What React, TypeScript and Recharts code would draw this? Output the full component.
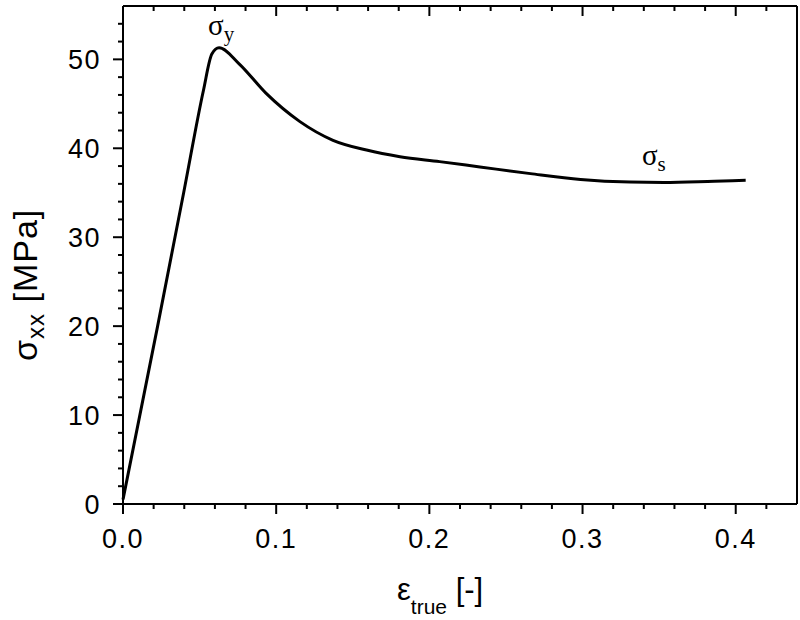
import { LineChart, Line, XAxis, YAxis, ReferenceDot, Label } from "recharts";

// true strain [-] and stress σxx [MPa]
const strainValues = [
  0, 0.0226, 0.0396, 0.0525, 0.058, 0.0627, 0.0758, 0.0933, 0.1155, 0.1371,
  0.159, 0.1808, 0.2067, 0.233, 0.266, 0.2987, 0.331, 0.353, 0.386, 0.4065,
];
const stressValues = [
  0.5, 20, 35, 46.5, 50.6, 51.3, 49.5, 46.2, 43.0, 40.9,
  39.8, 39.05, 38.5, 37.9, 37.15, 36.5, 36.2, 36.15, 36.3, 36.4,
];

const xTicks = [
  0, 0.02, 0.04, 0.06, 0.08, 0.1, 0.12, 0.14, 0.16, 0.18, 0.2, 0.22, 0.24,
  0.26, 0.28, 0.3, 0.32, 0.34, 0.36, 0.38, 0.4, 0.42,
];
const xLabels = ["0.0", "0.1", "0.2", "0.3", "0.4"];
const yTicks = [
  0, 2, 4, 6, 8, 10, 12, 14, 16, 18, 20, 22, 24, 26, 28, 30, 32, 34, 36, 38,
  40, 42, 44, 46, 48, 50, 52, 54,
];

const annotations = [
  { x: 0.0555, y: 52.7, sub: "y" },
  { x: 0.3388, y: 38.1, sub: "s" },
];

const data = strainValues.map((x, i) => ({ x, y: stressValues[i] }));

const SANS = "'Liberation Sans', Arial, Helvetica, sans-serif";
const SERIF = "'Liberation Serif', 'Times New Roman', serif";

const isMajorX = (v: number) => Math.abs(v * 10 - Math.round(v * 10)) < 1e-6;
const isMajorY = (v: number) => v % 10 === 0;

function BottomTick(props: any) {
  const { x, y, payload } = props;
  const major = isMajorX(payload.value);
  const idx = Math.round(payload.value * 10);
  return (
    <g>
      <line x1={x} y1={y} x2={x} y2={y + (major ? 10 : 5)} stroke="#000" strokeWidth={2} />
      {major && (
        <text x={x} y={y + 44} textAnchor="middle" fontSize={27} fontFamily={SANS} letterSpacing={1.5} fill="#000">
          {xLabels[idx]}
        </text>
      )}
    </g>
  );
}

function TopTick(props: any) {
  const { x, y, payload } = props;
  const major = isMajorX(payload.value);
  return <line x1={x} y1={y} x2={x} y2={y + (major ? 10 : 5)} stroke="#000" strokeWidth={2} />;
}

function LeftTick(props: any) {
  const { x, y, payload } = props;
  const major = isMajorY(payload.value);
  return (
    <g>
      <line x1={x} y1={y} x2={x - (major ? 10 : 5)} y2={y} stroke="#000" strokeWidth={2} />
      {major && (
        <text x={x - 22} y={y + 10} textAnchor="end" fontSize={27} fontFamily={SANS} letterSpacing={1.5} fill="#000">
          {payload.value}
        </text>
      )}
    </g>
  );
}

function RightTick(props: any) {
  const { x, y, payload } = props;
  const major = isMajorY(payload.value);
  return <line x1={x} y1={y} x2={x - (major ? 10 : 5)} y2={y} stroke="#000" strokeWidth={2} />;
}

function XTitle() {
  return (
    <text x={397} y={600} fontSize={31} fontFamily={SANS} fill="#000">
      ε
      <tspan fontSize={21} dy={14}>true</tspan>
      <tspan fontSize={31} dy={-14}> [-]</tspan>
    </text>
  );
}

function YTitle() {
  return (
    <text x={0} y={0} transform="translate(37,361) rotate(-90)" fontSize={34} fontFamily={SANS} letterSpacing={1} fill="#000">
      σ
      <tspan fontSize={24} dy={7}>xx</tspan>
      <tspan fontSize={34} dy={-7}> [MPa]</tspan>
    </text>
  );
}

function SigmaMark(props: any) {
  const { cx, cy, sub } = props;
  return (
    <text x={cx} y={cy} fontSize={29} fontFamily={SERIF} fill="#000">
      σ
      <tspan fontSize={21} dy={6}>{sub}</tspan>
    </text>
  );
}

const axisLine = { stroke: "#000", strokeWidth: 2 };

export default function App() {
  return (
    <div style={{ position: "absolute", left: 0, top: 0, background: "#fff" }}>
      <LineChart width={800} height={620} data={data} margin={{ top: 0, right: 0, bottom: 0, left: 0 }}>
        <XAxis
          xAxisId="bottom"
          dataKey="x"
          type="number"
          domain={[0, 0.44]}
          ticks={xTicks}
          interval={0}
          height={116}
          axisLine={axisLine}
          tickLine={false}
          tickSize={0}
          tickMargin={0}
          tick={BottomTick}
        >
          <Label content={XTitle} />
        </XAxis>
        <XAxis
          xAxisId="top"
          orientation="top"
          dataKey="x"
          type="number"
          domain={[0, 0.44]}
          ticks={xTicks}
          interval={0}
          height={6}
          axisLine={axisLine}
          tickLine={false}
          tickSize={0}
          tickMargin={0}
          tick={TopTick}
        />
        <YAxis
          yAxisId="left"
          type="number"
          domain={[0, 56]}
          ticks={yTicks}
          interval={0}
          width={123}
          axisLine={axisLine}
          tickLine={false}
          tickSize={0}
          tickMargin={0}
          tick={LeftTick}
        >
          <Label content={YTitle} />
        </YAxis>
        <YAxis
          yAxisId="right"
          orientation="right"
          type="number"
          domain={[0, 56]}
          ticks={yTicks}
          interval={0}
          width={3}
          axisLine={axisLine}
          tickLine={false}
          tickSize={0}
          tickMargin={0}
          tick={RightTick}
        />
        <Line
          xAxisId="bottom"
          yAxisId="left"
          dataKey="y"
          type="monotone"
          stroke="#000"
          strokeWidth={3}
          dot={false}
          isAnimationActive={false}
        />
        {annotations.map((a) => (
          <ReferenceDot
            key={a.sub}
            xAxisId="bottom"
            yAxisId="left"
            x={a.x}
            y={a.y}
            r={1}
            shape={(p: any) => <SigmaMark {...p} sub={a.sub} />}
          />
        ))}
      </LineChart>
    </div>
  );
}
